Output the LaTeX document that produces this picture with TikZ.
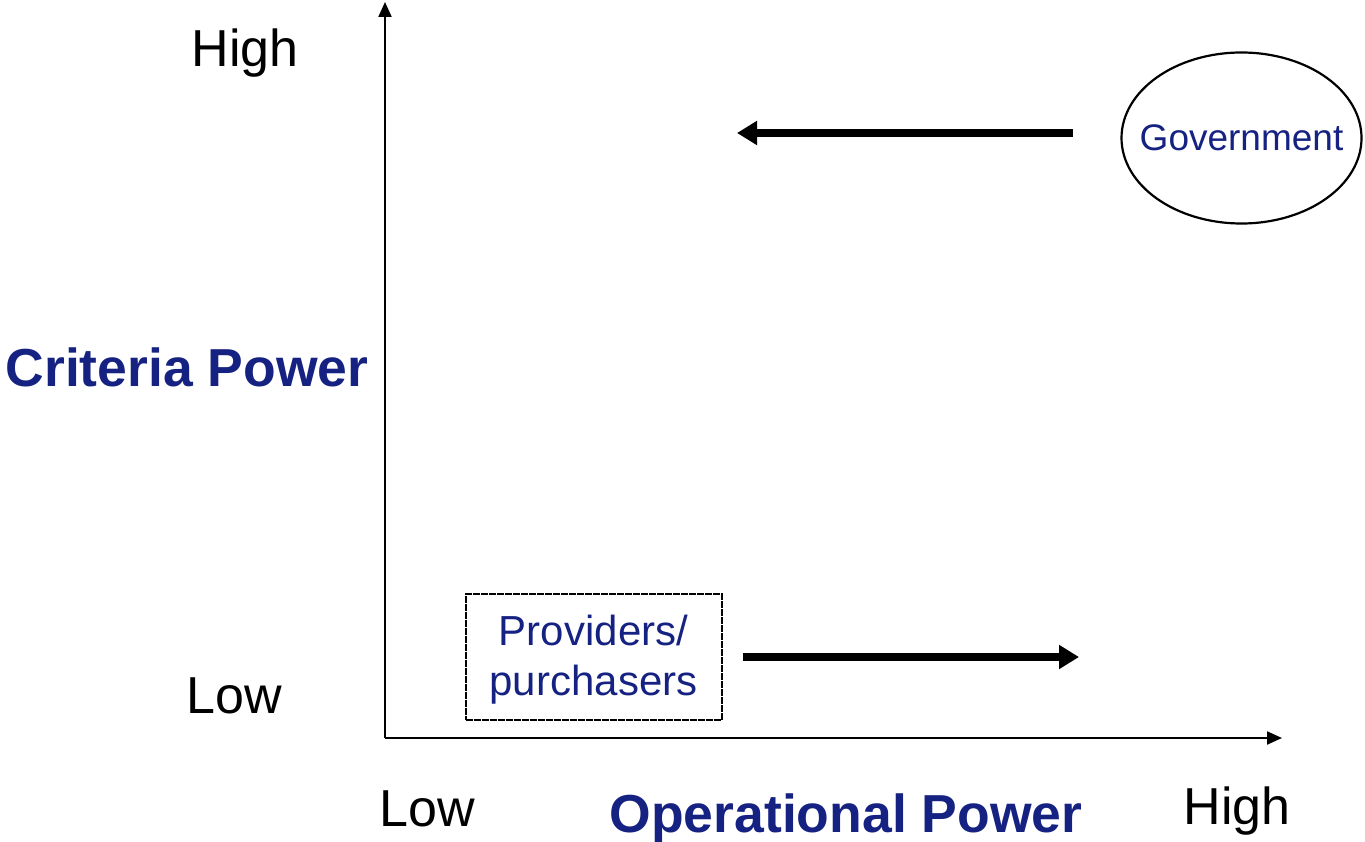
\documentclass[tikz,border=0pt]{standalone}
\usepackage{fontspec}
\setmainfont{Liberation Sans}
\usetikzlibrary{arrows.meta,shapes.geometric}
\definecolor{navy}{RGB}{22,34,130}
\begin{document}
\begin{tikzpicture}[x=1pt,y=-1pt,
  axis/.style={line width=2.2pt,-{Triangle[length=15pt,width=13pt]}},
  bigarrow/.style={line width=7.5pt,-{Triangle[length=20pt,width=23pt]}},
  axislabel/.style={font=\fontsize{52}{56}\selectfont,anchor=base,inner sep=0pt},
  powerlabel/.style={font=\fontsize{53.5}{56}\selectfont\bfseries,text=navy,anchor=base,inner sep=0pt},
  actor/.style={text=navy,inner sep=0pt}]
\useasboundingbox (0,0) rectangle (1365,842);
% axes
\coordinate (origin) at (385,738);
\coordinate (ytop) at (385,2);
\coordinate (xend) at (1282,738);
\draw[axis] (origin) -- (ytop);
\draw[axis] (origin) -- (xend);
% axis labels
\node[axislabel] (yhigh) at (245,67) {High};
\node[axislabel] (ylow) at (234,713) {Low};
\node[axislabel] (xlow) at (427,826) {Low};
\node[axislabel] (xhigh) at (1237,824) {High};
\node[powerlabel] (ytitle) at (187,386) {Criteria Power};
\node[powerlabel] (xtitle) at (846,832) {Operational Power};
% actors
\node[draw=black,line width=2.2pt,ellipse,inner sep=0pt,
  minimum width=240pt,minimum height=171pt] (gov) at (1241.5,138) {};
\node[actor,font=\fontsize{37}{40}\selectfont] (govtext) at (gov.center) {Government};
\node[draw=black,line width=2pt,dash pattern=on 7pt off 1pt,inner sep=0pt,
  minimum width=256pt,minimum height=126pt] (prov) at (593.5,656.5) {};
\node[actor,align=center,font=\fontsize{42}{50}\selectfont] (provtext)
  at ([yshift=-3pt]prov.center) {Providers/\\purchasers};
% movement arrows
\coordinate (govstart) at (1073,133);
\coordinate (govend) at (737,133);
\coordinate (provstart) at (743,657);
\coordinate (provend) at (1079,657);
\draw[bigarrow] (govstart) -- (govend);
\draw[bigarrow] (provstart) -- (provend);
\end{tikzpicture}
\end{document}
